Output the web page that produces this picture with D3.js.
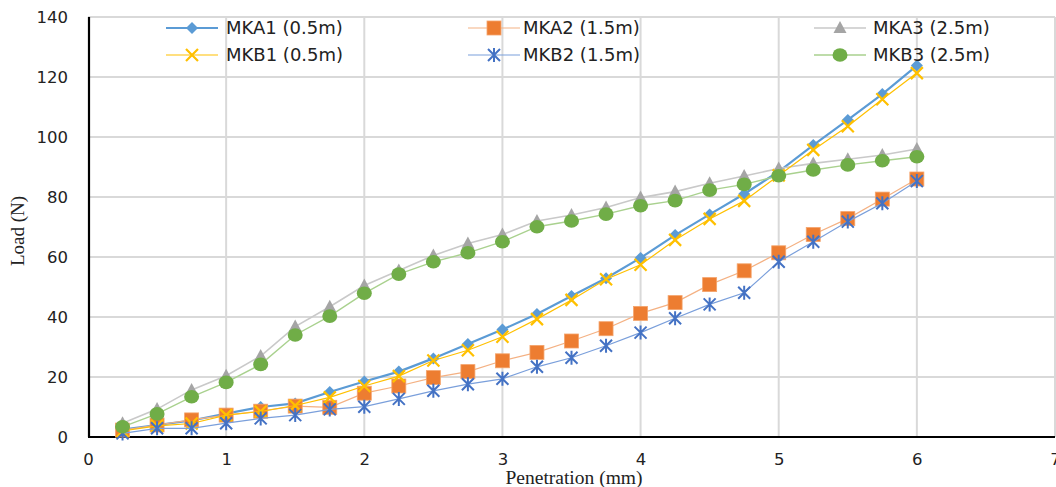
<!DOCTYPE html>
<html><head><meta charset="utf-8">
<script src="https://cdn.jsdelivr.net/npm/d3@7"></script>
<style>html,body{margin:0;padding:0;background:#fff;}svg{display:block;}</style>
</head><body>
<svg id="chart" width="1056" height="487"></svg>
<script>
const penetration = [0.25,0.5,0.75,1,1.25,1.5,1.75,2,2.25,2.5,2.75,3,3.25,3.5,3.75,4,4.25,4.5,4.75,5,5.25,5.5,5.75,6];
const mka1 = [2.5,4,5.5,7.8,10,11.2,15,18.5,21.8,26.2,31,35.8,41,47,52.9,59.7,67.3,74.2,81,88.5,97.3,105.7,114.3,123.8];
const mka2 = [2.3,4,5.7,7.3,8.6,10.3,9.9,14.6,17,19.8,21.8,25.4,28.2,32,36.1,41.2,44.8,50.8,55.4,61.4,67.5,72.8,79.3,86];
const mka3 = [4.6,9.3,15.7,20.4,27,36.8,43.4,50.5,55.5,60.5,64.5,67.5,72,74,76.5,79.8,81.8,84.6,87,89.5,91.2,92.6,94,96];
const mkb1 = [2,3.7,4.5,7.3,8.5,10.5,13.2,17,20.3,25.5,28.9,33.4,39.3,45.7,52.6,57.4,65.7,72.7,78.7,87.2,95.7,103.6,112.6,121.3];
const mkb2 = [1.2,2.9,2.9,4.6,6.2,7.3,9.2,10.1,12.7,15.4,17.6,19.4,23.4,26.4,30.4,34.8,39.6,44.2,48.1,58.4,65.1,71.8,77.9,85.3];
const mkb3 = [3.4,7.7,13.4,18.2,24.2,34,40.3,47.9,54.3,58.4,61.4,65.1,70.1,72,74.3,77.1,78.8,82.3,84.2,87.1,89,90.7,92.1,93.4];
const seriesNames = ["MKA1 (0.5m)","MKA2 (1.5m)","MKA3 (2.5m)","MKB1 (0.5m)","MKB2 (1.5m)","MKB3 (2.5m)"];
const xTicks = [0,1,2,3,4,5,6,7];
const yTicks = [0,20,40,60,80,100,120,140];

const series = [
  {name:seriesNames[0], values:mka1, line:"#5B9BD5", lw:2.2, marker:"diamond", color:"#5B9BD5"},
  {name:seriesNames[1], values:mka2, line:"#F4B183", lw:1.2, marker:"square", color:"#ED7D31"},
  {name:seriesNames[2], values:mka3, line:"#C9C9C9", lw:1.6, marker:"triangle", color:"#A5A5A5"},
  {name:seriesNames[3], values:mkb1, line:"#FFC000", lw:1.2, marker:"x", color:"#FFC000"},
  {name:seriesNames[4], values:mkb2, line:"#7A9FDB", lw:1.2, marker:"star", color:"#4472C4"},
  {name:seriesNames[5], values:mkb3, line:"#A9D18E", lw:1.4, marker:"circle", color:"#70AD47"}
];

const svg = d3.select("#chart");
const x = d3.scaleLinear().domain([0,7]).range([88,1055]);
const y = d3.scaleLinear().domain([0,140]).range([437,17]);

// gridlines
svg.append("g").selectAll("line").data(yTicks.slice(1)).join("line")
  .attr("x1",88).attr("x2",1055).attr("y1",d=>y(d)).attr("y2",d=>y(d))
  .attr("stroke","#d9d9d9").attr("stroke-width",2);
svg.append("g").selectAll("line").data(xTicks.slice(1)).join("line")
  .attr("x1",d=>x(d)).attr("x2",d=>x(d)).attr("y1",17).attr("y2",437)
  .attr("stroke","#d9d9d9").attr("stroke-width",2);

// axes
const yAxis = svg.append("g").attr("transform","translate(89,0)")
  .call(d3.axisLeft(y).tickValues(yTicks).tickSize(0).tickPadding(21).tickFormat(d3.format("d")));
yAxis.select(".domain").attr("stroke","#000").attr("stroke-width",2.2).attr("d","M0,17V437");
yAxis.selectAll("text").attr("font-family","DejaVu Sans").attr("font-size",16.5).attr("fill","#222");

const xAxis = svg.append("g").attr("transform","translate(0,437)")
  .call(d3.axisBottom(x).tickValues(xTicks).tickSize(0).tickPadding(16).tickFormat(d3.format("d")));
xAxis.select(".domain").attr("stroke","#000").attr("stroke-width",2.2).attr("d","M88,0H1055");
xAxis.selectAll("text").attr("font-family","DejaVu Sans").attr("font-size",16.5).attr("fill","#222");

// titles
svg.append("text").attr("x",574).attr("y",484).attr("text-anchor","middle")
  .attr("font-family","Liberation Serif").attr("font-size",19.5).attr("fill","#222").text("Penetration (mm)");
svg.append("text").attr("transform","translate(24,231) rotate(-90)").attr("text-anchor","middle")
  .attr("font-family","Liberation Serif").attr("font-size",19).attr("fill","#222").text("Load (N)");

function drawMarker(g, type, color, cx, cy){
  if(type==="diamond"){
    g.append("path").attr("d",`M${cx},${cy-6}L${cx+6},${cy}L${cx},${cy+6}L${cx-6},${cy}Z`).attr("fill",color);
  } else if(type==="square"){
    g.append("rect").attr("x",cx-7).attr("y",cy-7).attr("width",14).attr("height",14).attr("fill",color)
      .attr("stroke","#f4a46c").attr("stroke-width",0.8);
  } else if(type==="triangle"){
    g.append("path").attr("d",`M${cx},${cy-7}L${cx+6.5},${cy+5}L${cx-6.5},${cy+5}Z`).attr("fill",color);
  } else if(type==="x"){
    g.append("path").attr("d",`M${cx-6},${cy-6}L${cx+6},${cy+6}M${cx-6},${cy+6}L${cx+6},${cy-6}`)
      .attr("stroke",color).attr("stroke-width",2.2);
  } else if(type==="star"){
    g.append("path").attr("d",`M${cx-6},${cy-6}L${cx+6},${cy+6}M${cx-6},${cy+6}L${cx+6},${cy-6}M${cx},${cy-7}L${cx},${cy+7}`)
      .attr("stroke",color).attr("stroke-width",2);
  } else if(type==="circle"){
    g.append("ellipse").attr("cx",cx).attr("cy",cy).attr("rx",7.5).attr("ry",6.8).attr("fill",color);
  }
}

const line = d3.line().x(d=>x(d[0])).y(d=>y(d[1]));
series.forEach(s=>{
  const g = svg.append("g");
  const pts = penetration.map((p,i)=>[p,s.values[i]]);
  g.append("path").datum(pts).attr("d",line).attr("fill","none").attr("stroke",s.line).attr("stroke-width",s.lw);
  pts.forEach(p=>drawMarker(g,s.marker,s.color,x(p[0]),y(p[1])));
});

// legend
const legCols = [{lx:166,tx:226},{lx:468,tx:523},{lx:814,tx:873}];
const legRows = [28,55];
series.forEach((s,i)=>{
  const col = legCols[i%3], row = legRows[Math.floor(i/3)];
  const g = svg.append("g");
  g.append("line").attr("x1",col.lx).attr("x2",col.lx+52).attr("y1",row).attr("y2",row)
    .attr("stroke",s.line).attr("stroke-width",s.lw);
  drawMarker(g,s.marker,s.color,col.lx+26,row);
  g.append("text").attr("x",col.tx).attr("y",row).attr("dy","0.36em")
    .attr("font-family","DejaVu Sans").attr("font-size",18).attr("fill","#222").text(s.name);
});
</script>
</body></html>
